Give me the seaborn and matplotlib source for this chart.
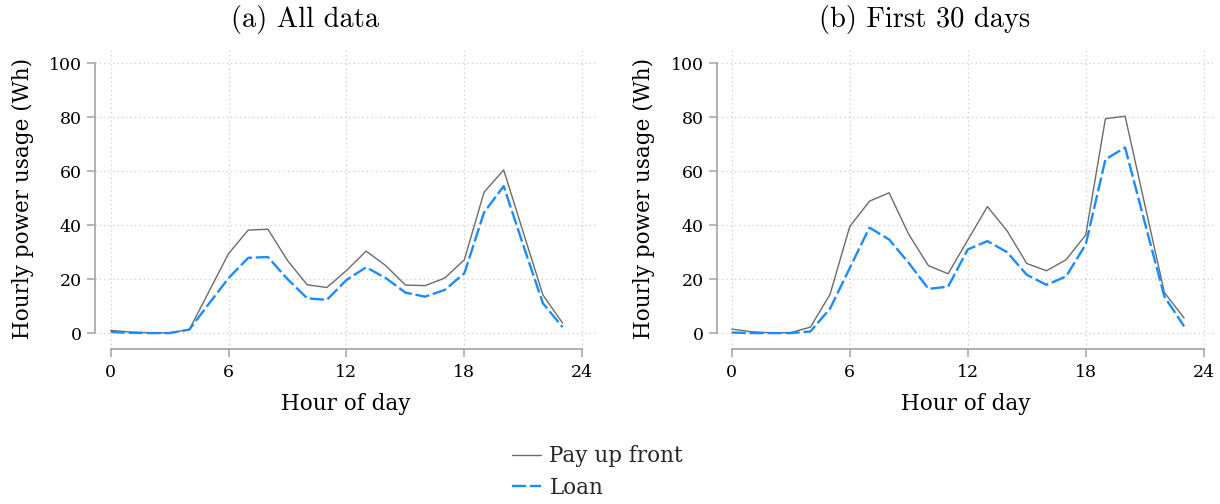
import matplotlib
matplotlib.use("Agg")
import matplotlib.pyplot as plt
import numpy as np
import pandas as pd
import seaborn as sns

# ---------------- data ----------------
hours = list(range(24))
all_payfront = [1.0, 0.4, 0.1, 0.1, 1.3, 15.4, 29.5, 38.2, 38.5, 26.9, 17.9, 16.9,
                23.2, 30.4, 25.0, 17.8, 17.6, 20.4, 27.2, 52.2, 60.5, 37.3, 14.1, 3.7]
all_loan = [0.4, 0.1, 0.0, 0.0, 1.3, 10.9, 20.4, 27.9, 28.2, 20.0, 12.9, 12.3,
            19.7, 24.4, 20.4, 15.0, 13.5, 16.0, 22.2, 44.7, 54.5, 32.5, 11.0, 2.2]
first30_payfront = [1.5, 0.5, 0.1, 0.2, 2.2, 14.4, 39.5, 48.9, 52.0, 36.6, 25.0, 22.0,
                    34.5, 46.9, 37.9, 25.8, 23.1, 27.2, 36.4, 79.5, 80.4, 47.7, 15.0, 5.6]
first30_loan = [0.2, 0.0, 0.0, 0.0, 0.6, 9.1, 24.1, 39.1, 34.7, 26.0, 16.4, 17.2,
                31.0, 34.1, 30.0, 21.6, 17.9, 21.0, 32.9, 64.4, 68.8, 41.0, 13.5, 2.5]
groups = ["Pay up front", "Loan"]
panel_titles = ["(a) All data", "(b) First 30 days"]
x_ticks = [0, 6, 12, 18, 24]
y_ticks = [0, 20, 40, 60, 80, 100]
x_label = "Hour of day"
y_label = "Hourly power usage (Wh)"

GRAY = "#6b6b6b"
BLUE = "#1a8cff"
AXC = "#a3a3a3"


def make_df(pay, loan):
    return pd.DataFrame({
        "hour": hours * 2,
        "usage": list(pay) + list(loan),
        "group": [groups[0]] * len(hours) + [groups[1]] * len(hours),
    })


sns.set_theme(style="white")
plt.rcParams["font.family"] = ["DejaVu Serif"]

W, H = 1220, 504
fig = plt.figure(figsize=(W / 100, H / 100), dpi=100)
ax1 = fig.add_axes([95 / W, 1 - 349 / H, (597 - 95) / W, 301 / H])
ax2 = fig.add_axes([717 / W, 1 - 349 / H, (1214 - 717) / W, 301 / H])

panels = [(ax1, make_df(all_payfront, all_loan), (-0.80, 24.75), 305),
          (ax2, make_df(first30_payfront, first30_loan), (-0.75, 24.52), 925)]

for i, (ax, df, xl, tx) in enumerate(panels):
    sns.lineplot(data=df, x="hour", y="usage", hue="group", style="group",
                 size="group", hue_order=groups, style_order=groups, size_order=groups,
                 palette={groups[0]: GRAY, groups[1]: BLUE},
                 dashes={groups[0]: "", groups[1]: (6.0, 1.6)},
                 sizes={groups[0]: 1.0, groups[1]: 1.7},
                 legend=(i == 0), ax=ax)
    ax.set_xlim(*xl)
    ax.set_ylim(-5.9, 105.7)
    ax.set_xticks(x_ticks)
    ax.set_yticks(y_ticks)
    ax.grid(True, linestyle=(0, (1, 2.5)), color="#cccccc", linewidth=0.9)
    for s in ["top", "right"]:
        ax.spines[s].set_visible(False)
    for s in ["left", "bottom"]:
        ax.spines[s].set_visible(True)
        ax.spines[s].set_color(AXC)
        ax.spines[s].set_linewidth(1.2)
    ax.spines["left"].set_bounds(0, 100)
    ax.spines["bottom"].set_bounds(0, 24)
    ax.tick_params(axis="both", which="major", bottom=True, left=True,
                   direction="out", length=6, width=1.1, color=AXC,
                   labelcolor="black", labelsize=12.5)
    ax.tick_params(axis="x", pad=4.5)
    ax.tick_params(axis="y", pad=3.5)
    ax.set_xlabel(x_label, fontsize=15.5, color="black")
    ax.set_ylabel(y_label, fontsize=15.5, color="black")
    ax.xaxis.set_label_coords(0.5, -0.145)
    ax.yaxis.set_label_coords(-0.122 if i == 0 else -0.125, 0.5)
    fig.text(tx / W, 1 - 20 / H, panel_titles[i], ha="center", va="center",
             family="cmr10", fontsize=20.5, color="black")

leg = ax1.get_legend()
handles = list(leg.legend_handles)
labels = [t.get_text() for t in leg.get_texts()]
leg.remove()
fig.legend(handles, labels, loc="center left", bbox_to_anchor=(501 / W, 1 - 472 / H),
           frameon=False, fontsize=15.5, borderpad=0, handlelength=1.35,
           handletextpad=0.4, labelspacing=0.45)

fig.savefig("out.png", dpi=100)
